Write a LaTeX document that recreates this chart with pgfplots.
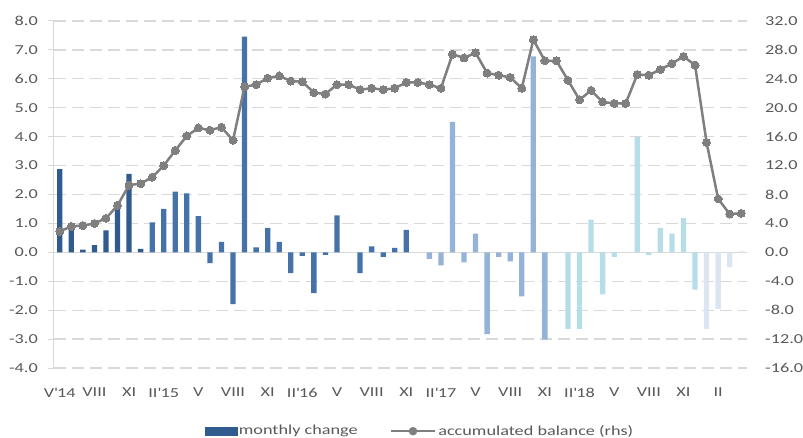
\documentclass[border=0pt]{standalone}
\usepackage{fontspec}
\setmainfont{Carlito}[FakeStretch=1.33]
\usepackage{pgfplots}
\pgfplotsset{compat=1.18}
\usepackage{pgfplotstable}
\definecolor{cA}{HTML}{2F5B8E}
\definecolor{cB}{HTML}{4573A9}
\definecolor{cC}{HTML}{95B3D7}
\definecolor{cD}{HTML}{B7DDE8}
\definecolor{cE}{HTML}{DCE6F2}
\definecolor{gridc}{HTML}{D9D9D9}
\definecolor{txt}{HTML}{595959}
\definecolor{linec}{HTML}{7F7F7F}
\newcommand{\q}{\textquotesingle}

% monthly change (left axis), grouped by year
\pgfplotstableread{
x y
0 2.88
1 0.78
2 0.09
3 0.25
4 0.76
5 1.60
6 2.71
7 0.12
}\yrA
\pgfplotstableread{
x y
8 1.04
9 1.50
10 2.10
11 2.04
12 1.25
13 -0.37
14 0.36
15 -1.79
16 7.46
17 0.17
18 0.85
19 0.36
20 -0.72
21 -0.12
22 -1.41
23 -0.09
24 1.28
26 -0.72
27 0.21
28 -0.16
29 0.15
30 0.78
}\yrB
\pgfplotstableread{
x y
32 -0.23
33 -0.45
34 4.51
35 -0.35
36 0.65
37 -2.83
38 -0.16
39 -0.31
40 -1.52
41 6.78
42 -3.02
}\yrC
\pgfplotstableread{
x y
44 -2.65
45 -2.65
46 1.13
47 -1.45
48 -0.16
50 3.99
51 -0.09
52 0.85
53 0.65
54 1.18
55 -1.29
}\yrD
\pgfplotstableread{
x y
56 -2.65
57 -1.96
58 -0.51
59 0.03
}\yrE
% accumulated balance (right axis)
\pgfplotstableread{
x y
0 2.9
1 3.6
2 3.7
3 4.0
4 4.7
5 6.5
6 9.3
7 9.5
8 10.4
9 12.0
10 14.1
11 16.1
12 17.2
13 16.9
14 17.3
15 15.5
16 22.9
17 23.2
18 24.1
19 24.4
20 23.7
21 23.6
22 22.1
23 21.9
24 23.2
25 23.2
26 22.5
27 22.7
28 22.5
29 22.7
30 23.5
31 23.5
32 23.2
33 22.7
34 27.4
35 26.9
36 27.6
37 24.8
38 24.5
39 24.2
40 22.7
41 29.4
42 26.5
43 26.5
44 23.8
45 21.1
46 22.4
47 20.8
48 20.6
49 20.6
50 24.6
51 24.5
52 25.3
53 26.1
54 27.1
55 25.9
56 15.2
57 7.4
58 5.3
59 5.4
}\accum

\begin{document}
\fontsize{13.7}{16}\selectfont
\begin{tikzpicture}
\pgfplotsset{
  base/.style={
    scale only axis, width=693pt, height=347pt,
    xmin=-0.5, xmax=59.5,
    tick label style={font=\fontsize{13.7}{16}\selectfont, text=txt},
  }
}
\begin{axis}[base,
  ymin=-4, ymax=8, ytick={-4,-3,...,8},
  yticklabels={-4.0,-3.0,-2.0,-1.0,0.0,1.0,2.0,3.0,4.0,5.0,6.0,7.0,8.0},
  xtick={0,3,...,57},
  xticklabels={V\q14,VIII,XI,II\q15,V,VIII,XI,II\q16,V,VIII,XI,II\q17,V,VIII,XI,II\q18,V,VIII,XI,II},
  axis y line*=left, axis x line*=bottom,
  y axis line style={draw=gridc, line width=1pt},
  x axis line style={draw=none},
  xtick style={draw=none},
  ytick style={draw=gridc, line width=1pt},
  tick align=outside, major tick length=6pt,
  ymajorgrids,
  major grid style={draw=gridc, line width=1.3pt, dash pattern=on 12pt off 6pt},
  yticklabel style={anchor=east, inner sep=0pt, xshift=-10pt},
  xticklabel style={anchor=north, inner sep=0pt, yshift=-14pt},
  legend style={draw=none, fill=none, at={(0.528,-0.182)}, anchor=center,
    font=\fontsize{13.7}{16}\selectfont, text=txt, inner sep=0pt,
    /tikz/every even column/.append style={column sep=30pt}},
  legend columns=2,
  legend cell align=left,
]
\draw[gridc, line width=1.3pt] (axis cs:-0.5,0) -- (axis cs:59.5,0);
\addlegendimage{legend image code/.code={\fill[cA] (0pt,-4pt) rectangle (32pt,4pt);}}
\addlegendentry{monthly change}
\addlegendimage{legend image code/.code={\draw[linec, line width=2.5pt] (0pt,0pt) -- (44pt,0pt); \fill[linec] (22pt,0pt) circle (4pt);}}
\addlegendentry{accumulated balance (rhs)}
\addplot[ybar, bar width=5.3pt, bar shift=0pt, fill=cA, draw=none, forget plot] table[x=x,y=y] {\yrA};
\addplot[ybar, bar width=5.3pt, bar shift=0pt, fill=cB, draw=none, forget plot] table[x=x,y=y] {\yrB};
\addplot[ybar, bar width=5.3pt, bar shift=0pt, fill=cC, draw=none, forget plot] table[x=x,y=y] {\yrC};
\addplot[ybar, bar width=5.3pt, bar shift=0pt, fill=cD, draw=none, forget plot] table[x=x,y=y] {\yrD};
\addplot[ybar, bar width=5.3pt, bar shift=0pt, fill=cE, draw=none, forget plot] table[x=x,y=y] {\yrE};
\end{axis}
\begin{axis}[base,
  ymin=-16, ymax=32, ytick={-16,-12,...,32},
  yticklabels={-16.0,-12.0,-8.0,-4.0,0.0,4.0,8.0,12.0,16.0,20.0,24.0,28.0,32.0},
  axis y line*=right, axis x line=none,
  y axis line style={draw=none},
  ytick style={draw=none},
  yticklabel style={anchor=west, inner sep=0pt, xshift=18pt},
]
\addplot[linec, line width=2.5pt, mark=*, mark size=4pt, mark options={fill=linec, draw=linec, line width=0pt}] table[x=x,y=y] {\accum};
\end{axis}
\pgfresetboundingbox
\path[use as bounding box] (-54pt,-69pt) rectangle (749pt,368pt);
\end{tikzpicture}
\end{document}
